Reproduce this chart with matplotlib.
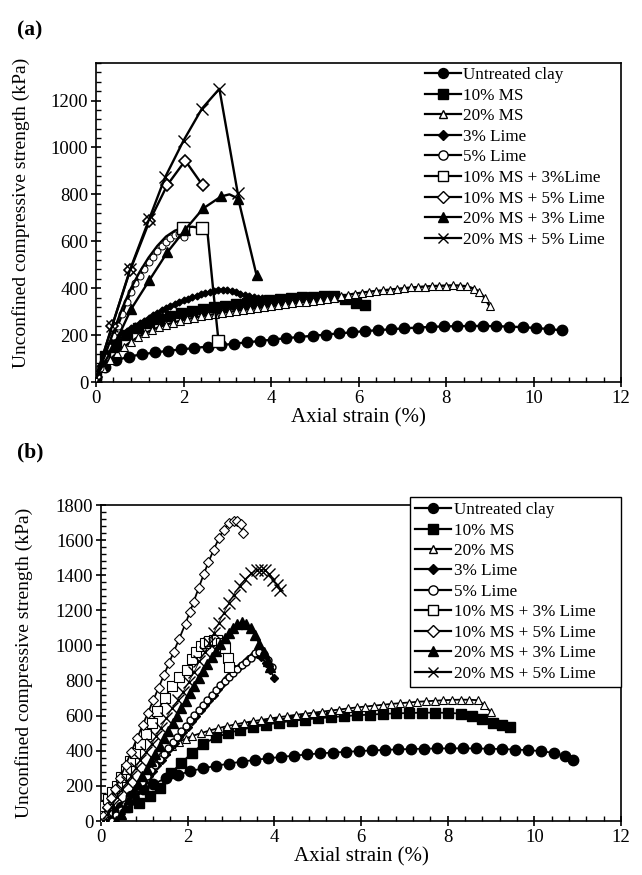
import matplotlib
matplotlib.use("Agg")
import matplotlib.pyplot as plt
from matplotlib.lines import Line2D
from matplotlib.ticker import MultipleLocator

plt.rcParams['font.family'] = ['Liberation Serif', 'DejaVu Serif']
plt.rcParams['mathtext.fontset'] = 'stix'

labels_a = ['Untreated clay', '10% MS', '20% MS', '3% Lime', '5% Lime',
            '10% MS + 3%Lime', '10% MS + 5% Lime', '20% MS + 3% Lime',
            '20% MS + 5% Lime']
labels_b = ['Untreated clay', '10% MS', '20% MS', '3% Lime', '5% Lime',
            '10% MS + 3% Lime', '10% MS + 5% Lime', '20% MS + 3% Lime',
            '20% MS + 5% Lime']

# ---------------- panel (a) ----------------
clay_a_x = [0, 0.2, 0.45, 0.75, 1.05, 1.35, 1.65, 1.95, 2.25, 2.55, 2.85, 3.15, 3.45,
            3.75, 4.05, 4.35, 4.65, 4.95, 5.25, 5.55, 5.85, 6.15, 6.45, 6.75, 7.05,
            7.35, 7.65, 7.95, 8.25, 8.55, 8.85, 9.15, 9.45, 9.75, 10.05, 10.35, 10.65]
clay_a_y = [15, 65, 92, 108, 118, 126, 133, 139, 145, 151, 157, 163, 169, 175, 181,
            187, 192, 197, 202, 207, 212, 217, 221, 225, 229, 232, 235, 237, 238, 239,
            239, 238, 236, 234, 230, 226, 220]

ms10_a_x = [0, 0.2, 0.45, 0.7, 0.95, 1.2, 1.45, 1.7, 1.95, 2.2, 2.45, 2.7, 2.95, 3.2,
            3.45, 3.7, 3.95, 4.2, 4.45, 4.7, 4.95, 5.2, 5.45, 5.7, 5.95, 6.15]
ms10_a_y = [20, 110, 160, 200, 230, 252, 268, 282, 293, 302, 311, 319, 326, 332, 338,
            343, 348, 353, 357, 361, 364, 366, 366, 355, 338, 328]

ms20_a_x = [0, 0.16, 0.32, 0.48, 0.64, 0.8, 0.96, 1.12, 1.28, 1.44, 1.6, 1.76, 1.92,
            2.08, 2.24, 2.4, 2.56, 2.72, 2.88, 3.04, 3.2, 3.36, 3.52, 3.68, 3.84, 4.0,
            4.16, 4.32, 4.48, 4.64, 4.8, 4.96, 5.12, 5.28, 5.44, 5.6, 5.76, 5.92, 6.08,
            6.24, 6.4, 6.56, 6.72, 6.88, 7.04, 7.2, 7.36, 7.52, 7.68, 7.84, 8.0, 8.16,
            8.32, 8.48, 8.64, 8.76, 8.88, 9.0]
ms20_a_y = [20, 60, 95, 125, 150, 172, 192, 208, 222, 234, 244, 253, 261, 268, 274,
            280, 285, 290, 295, 299, 303, 307, 311, 315, 319, 323, 327, 331, 335, 339,
            343, 347, 351, 355, 360, 366, 372, 377, 381, 385, 388, 391, 394, 397, 400,
            403, 405, 407, 409, 410, 411, 412, 411, 408, 398, 385, 360, 322]

lime3_a_x = [0, 0.1, 0.2, 0.3, 0.4, 0.5, 0.6, 0.7, 0.8, 0.9, 1.0, 1.1, 1.2, 1.3, 1.4,
             1.5, 1.6, 1.7, 1.8, 1.9, 2.0, 2.1, 2.2, 2.3, 2.4, 2.5, 2.6, 2.7, 2.8, 2.9,
             3.0, 3.1, 3.2, 3.3, 3.4, 3.5, 3.6, 3.7, 3.8]
lime3_a_y = [20, 70, 120, 158, 178, 193, 207, 219, 230, 240, 251, 262, 273, 284, 295,
             305, 314, 323, 332, 340, 348, 355, 362, 368, 374, 380, 385, 390, 394, 394,
             391, 387, 382, 377, 371, 366, 362, 360, 358]

lime5_a_x = [0, 0.1, 0.2, 0.3, 0.4, 0.5, 0.6, 0.7, 0.8, 0.9, 1.0, 1.1, 1.2, 1.3, 1.4,
             1.5, 1.6, 1.7, 1.8, 1.9, 1.95, 2.01]
lime5_a_y = [20, 60, 105, 150, 195, 240, 290, 340, 385, 420, 450, 480, 510, 535, 560,
             580, 598, 613, 625, 632, 630, 620]

ms10l3_a_x = [0, 0.2, 0.4, 0.6, 0.8, 1.0, 1.2, 1.4, 1.6, 1.8, 1.98, 2.2, 2.42, 2.55,
              2.68, 2.8]
ms10l3_a_y = [20, 110, 215, 315, 400, 470, 530, 580, 620, 645, 657, 662, 656, 635,
              390, 175]

ms10l5_a_x = [0, 0.37, 0.78, 1.22, 1.63, 2.04, 2.44]
ms10l5_a_y = [20, 240, 476, 685, 840, 944, 838]

ms20l3_a_x = [0, 0.4, 0.8, 1.22, 1.63, 2.04, 2.45, 2.86, 3.05, 3.25, 3.67]
ms20l3_a_y = [20, 150, 310, 434, 553, 650, 740, 791, 800, 782, 455]

ms20l5_a_x = [0, 0.37, 0.78, 1.22, 1.58, 2.0, 2.42, 2.82, 3.24]
ms20l5_a_y = [20, 240, 480, 697, 873, 1029, 1165, 1250, 805]

# ---------------- panel (b) ----------------
clay_b_x = [0.2, 0.45, 0.7, 0.97, 1.21, 1.5, 1.77, 2.06, 2.35, 2.65, 2.95, 3.25, 3.55,
            3.85, 4.15, 4.45, 4.75, 5.05, 5.35, 5.65, 5.95, 6.25, 6.55, 6.85, 7.15,
            7.45, 7.75, 8.05, 8.35, 8.65, 8.95, 9.25, 9.55, 9.85, 10.15, 10.45, 10.7,
            10.9]
clay_b_y = [0, 80, 140, 180, 210, 245, 262, 284, 300, 314, 327, 338, 348, 357, 365,
            372, 379, 385, 390, 394, 398, 402, 405, 408, 410, 412, 413, 414, 414, 413,
            412, 410, 407, 404, 398, 388, 372, 350]

ms10_b_x = [0.2, 0.36, 0.61, 0.87, 1.13, 1.35, 1.62, 1.85, 2.11, 2.36, 2.66, 2.92, 3.2,
            3.5, 3.8, 4.1, 4.4, 4.7, 5.0, 5.3, 5.6, 5.9, 6.2, 6.5, 6.8, 7.1, 7.4, 7.7,
            8.0, 8.3, 8.55, 8.8, 9.05, 9.25, 9.45]
ms10_b_y = [0, 50, 80, 105, 140, 190, 275, 330, 390, 440, 477, 500, 518, 534, 548, 560,
            570, 578, 585, 591, 597, 602, 606, 610, 613, 615, 617, 617, 616, 612, 600,
            580, 560, 545, 535]

ms20_b_x = [0.3, 0.45, 0.6, 0.75, 0.9, 1.05, 1.2, 1.36, 1.5, 1.64, 1.8, 1.95, 2.1, 2.3,
            2.5, 2.7, 2.9, 3.1, 3.3, 3.5, 3.7, 3.9, 4.1, 4.3, 4.5, 4.7, 4.9, 5.1, 5.3,
            5.5, 5.7, 5.9, 6.1, 6.3, 6.5, 6.7, 6.9, 7.1, 7.3, 7.5, 7.7, 7.9, 8.1, 8.3,
            8.5, 8.7, 8.85, 9.0]
ms20_b_y = [0, 60, 120, 180, 235, 285, 330, 370, 400, 425, 450, 468, 484, 500, 515,
            528, 540, 550, 560, 568, 576, 584, 591, 598, 605, 611, 617, 623, 629, 635,
            641, 647, 652, 657, 662, 667, 671, 675, 679, 682, 685, 688, 690, 691, 691,
            688, 660, 620]

lime3_b_x = [0.3, 0.4, 0.5, 0.6, 0.7, 0.8, 0.9, 1.0, 1.1, 1.2, 1.3, 1.4, 1.5, 1.6, 1.7,
             1.8, 1.9, 2.0, 2.1, 2.2, 2.3, 2.4, 2.5, 2.6, 2.7, 2.8, 2.9, 3.0, 3.1, 3.2,
             3.3, 3.4, 3.5, 3.6, 3.7, 3.8, 3.9, 4.0]
lime3_b_y = [0, 30, 62, 94, 126, 158, 190, 222, 254, 286, 318, 350, 382, 413, 445, 476,
             507, 538, 569, 600, 630, 660, 688, 718, 750, 782, 812, 840, 865, 885, 900,
             925, 945, 950, 935, 900, 860, 815]

lime5_b_x = [0.25, 0.35, 0.45, 0.55, 0.65, 0.75, 0.85, 0.95, 1.05, 1.15, 1.25, 1.35,
             1.45, 1.55, 1.65, 1.75, 1.85, 1.95, 2.05, 2.15, 2.25, 2.35, 2.45, 2.55,
             2.65, 2.75, 2.85, 2.95, 3.05, 3.15, 3.25, 3.35, 3.45, 3.55, 3.65, 3.75,
             3.85, 3.95]
lime5_b_y = [0, 32, 64, 96, 128, 160, 192, 224, 256, 288, 320, 352, 384, 416, 448, 480,
             511, 542, 573, 604, 634, 663, 692, 720, 747, 773, 798, 822, 845, 867, 888,
             908, 930, 955, 965, 950, 915, 875]

ms10l3_b_x = [0.0, 0.05, 0.1, 0.15, 0.25, 0.36, 0.47, 0.57, 0.68, 0.78, 0.9, 1.04, 1.17,
              1.3, 1.47, 1.64, 1.81, 1.98, 2.1, 2.2, 2.3, 2.4, 2.5, 2.6, 2.68, 2.78,
              2.87, 2.92, 2.95]
ms10l3_b_y = [0, 40, 85, 128, 165, 202, 248, 294, 340, 385, 440, 495, 560, 624, 700, 770,
              820, 862, 920, 960, 995, 1015, 1025, 1030, 1031, 1015, 985, 930, 880]

ms10l5_b_x = [0.05, 0.14, 0.23, 0.33, 0.44, 0.57, 0.7, 0.83, 0.96, 1.08, 1.21, 1.33,
              1.45, 1.57, 1.68, 1.8, 1.95, 2.05, 2.14, 2.25, 2.37, 2.48, 2.6, 2.72, 2.83,
              2.95, 3.06, 3.15, 3.22, 3.28]
ms10l5_b_y = [30, 80, 130, 185, 245, 320, 395, 470, 545, 615, 690, 760, 830, 900, 965,
              1035, 1125, 1190, 1250, 1325, 1405, 1475, 1545, 1610, 1660, 1695, 1710,
              1708, 1690, 1640]

ms20l3_b_x = [0.35, 0.45, 0.55, 0.65, 0.75, 0.85, 0.95, 1.05, 1.15, 1.25, 1.35, 1.45,
              1.55, 1.65, 1.75, 1.85, 1.95, 2.05, 2.15, 2.25, 2.35, 2.45, 2.55, 2.65,
              2.75, 2.85, 2.95, 3.05, 3.15, 3.25, 3.35, 3.45, 3.55, 3.65, 3.75, 3.85, 3.9]
ms20l3_b_y = [0, 40, 82, 125, 168, 212, 255, 298, 341, 384, 427, 470, 513, 556, 599, 642,
              685, 728, 770, 812, 853, 893, 932, 970, 1006, 1040, 1072, 1100, 1122, 1132,
              1125, 1100, 1060, 1010, 960, 910, 880]

ms20l5_b_x = [0.05, 0.15, 0.27, 0.38, 0.49, 0.6, 0.7, 0.8, 0.91, 1.04, 1.17, 1.28, 1.38,
              1.51, 1.64, 1.77, 1.89, 2.02, 2.15, 2.27, 2.4, 2.5, 2.6, 2.72, 2.83, 2.95,
              3.06, 3.2, 3.33, 3.46, 3.6, 3.7, 3.79, 3.88, 3.98, 4.06, 4.14]
ms20l5_b_y = [0, 45, 92, 138, 183, 220, 257, 303, 349, 395, 440, 486, 532, 587, 642, 688,
              734, 790, 850, 910, 965, 1015, 1070, 1130, 1185, 1240, 1290, 1340, 1380,
              1410, 1428, 1432, 1428, 1405, 1372, 1345, 1317]

# marker styles for the nine mixes: (marker, face colour, size)
styles = [('o', 'black', 7.5), ('s', 'black', 7), ('^', 'white', 6.5),
          ('D', 'black', 5), ('o', 'white', 7), ('s', 'white', 8),
          ('D', 'white', 6), ('^', 'black', 7.5), ('x', 'none', 8)]


def style_axes(ax, ymax):
    ax.set_xlim(0, 12)
    ax.set_ylim(0, ymax)
    ax.xaxis.set_major_locator(MultipleLocator(2))
    ax.xaxis.set_minor_locator(MultipleLocator(0.4))
    ax.yaxis.set_major_locator(MultipleLocator(200))
    ax.yaxis.set_minor_locator(MultipleLocator(40))
    ax.tick_params(which='major', direction='inout', length=7, width=1.2,
                   labelsize=13.5, top=False, right=False, pad=2)
    ax.tick_params(which='minor', direction='in', length=3.5, width=1,
                   top=False, right=False)
    for sp in ax.spines.values():
        sp.set_linewidth(1.2)
    ax.set_xlabel('Axial strain (%)', fontsize=15, labelpad=1)
    ax.set_ylabel('Unconfined compressive strength (kPa)', fontsize=14)


def legend_handles():
    hs = []
    for mk, fc, ms in styles:
        hs.append(Line2D([], [], color='black', lw=1.6, marker=mk,
                         markerfacecolor=fc, markeredgecolor='black',
                         markersize=ms * 0.95, markeredgewidth=1))
    return hs


fig = plt.figure(figsize=(6.42, 8.75), dpi=100)

# ---- (a) ----
ax1 = fig.add_axes([96 / 642, 1 - 382 / 875, 525 / 642, 319 / 875])
lw = 1.7
ax1.plot(clay_a_x, clay_a_y, '-', color='black', lw=lw, marker='o', ms=7.5,
         mfc='black', mec='black', zorder=3)
ax1.plot(ms10_a_x, ms10_a_y, '-', color='black', lw=lw, marker='s', ms=6.5,
         mfc='black', mec='black', zorder=3)
ax1.plot(ms20_a_x, ms20_a_y, '-', color='black', lw=lw, marker='^', ms=5.5,
         mfc='white', mec='black', mew=0.8, zorder=3)
ax1.plot(lime3_a_x, lime3_a_y, '-', color='black', lw=lw, marker='D', ms=3.5,
         mfc='black', mec='black', zorder=3)
ax1.plot(lime5_a_x, lime5_a_y, '-', color='black', lw=lw, marker='o', ms=5,
         mfc='white', mec='black', mew=0.7, zorder=3)
ax1.plot(ms10l3_a_x, ms10l3_a_y, '-', color='black', lw=lw, marker='s', ms=8,
         mfc='white', mec='black', mew=1, markevery=[10, 12, 15], zorder=4)
ax1.plot(ms10l5_a_x, ms10l5_a_y, '-', color='black', lw=lw, marker='D', ms=6,
         mfc='white', mec='black', mew=1.2, zorder=4)
ax1.plot(ms20l3_a_x, ms20l3_a_y, '-', color='black', lw=lw, marker='^', ms=7.5,
         mfc='black', mec='black', markevery=[1, 2, 3, 4, 5, 6, 7, 9, 10], zorder=4)
ax1.plot(ms20l5_a_x, ms20l5_a_y, '-', color='black', lw=lw, marker='x', ms=8,
         mec='black', mew=1, zorder=4)
style_axes(ax1, 1360)
ax1.yaxis.set_label_coords(-0.125, 0.53)

leg1 = ax1.legend(legend_handles(), labels_a, loc='upper left',
                  bbox_to_anchor=(425 / 642, 1 - 67 / 875),
                  bbox_transform=fig.transFigure, frameon=False, fontsize=12.3,
                  handlelength=2.1, handletextpad=0.15, labelspacing=0.27,
                  borderpad=0, borderaxespad=0)

# ---- (b) ----
ax2 = fig.add_axes([101 / 642, 1 - 821 / 875, 520 / 642, 316 / 875])
lw = 1.3
ax2.plot(clay_b_x, clay_b_y, '-', color='black', lw=lw, marker='o', ms=7.5,
         mfc='black', mec='black', zorder=3)
ax2.plot(ms10_b_x, ms10_b_y, '-', color='black', lw=lw, marker='s', ms=7.5,
         mfc='black', mec='black', zorder=3)
ax2.plot(ms20_b_x, ms20_b_y, '-', color='black', lw=lw, marker='^', ms=6,
         mfc='white', mec='black', mew=0.8, zorder=3)
ax2.plot(lime3_b_x, lime3_b_y, '-', color='black', lw=lw, marker='D', ms=4.5,
         mfc='black', mec='black', zorder=3)
ax2.plot(lime5_b_x, lime5_b_y, '-', color='black', lw=lw, marker='o', ms=5,
         mfc='white', mec='black', mew=1, zorder=3)
ax2.plot(ms10l3_b_x, ms10l3_b_y, '-', color='black', lw=lw, marker='s', ms=7,
         mfc='white', mec='black', mew=0.8, zorder=4)
ax2.plot(ms10l5_b_x, ms10l5_b_y, '-', color='black', lw=lw, marker='D', ms=5.5,
         mfc='white', mec='black', mew=0.8, zorder=4)
ax2.plot(ms20l3_b_x, ms20l3_b_y, '-', color='black', lw=lw, marker='^', ms=6.5,
         mfc='black', mec='black', zorder=4)
ax2.plot(ms20l5_b_x, ms20l5_b_y, '-', color='black', lw=0.6, marker='x', ms=8,
         mec='black', mew=1, zorder=4)
style_axes(ax2, 1800)
ax2.yaxis.set_label_coords(-0.13, 0.5)

leg2 = ax2.legend(legend_handles(), labels_b, loc='upper left',
                  bbox_to_anchor=(410 / 642, 1 - 497 / 875, 211 / 642, 0),
                  bbox_transform=fig.transFigure, mode='expand', frameon=True,
                  fancybox=False, edgecolor='black', framealpha=1, fontsize=12.3,
                  handlelength=2.1, handletextpad=0.15, labelspacing=0.26,
                  borderpad=0.3, borderaxespad=0)
leg2.get_frame().set_linewidth(1.0)

fig.text(17 / 642, 1 - 30 / 875, '(a)', fontsize=15.5, fontweight='bold', va='center')
fig.text(17 / 642, 1 - 452 / 875, '(b)', fontsize=15.5, fontweight='bold', va='center')

fig.savefig('out.png', dpi=100)
